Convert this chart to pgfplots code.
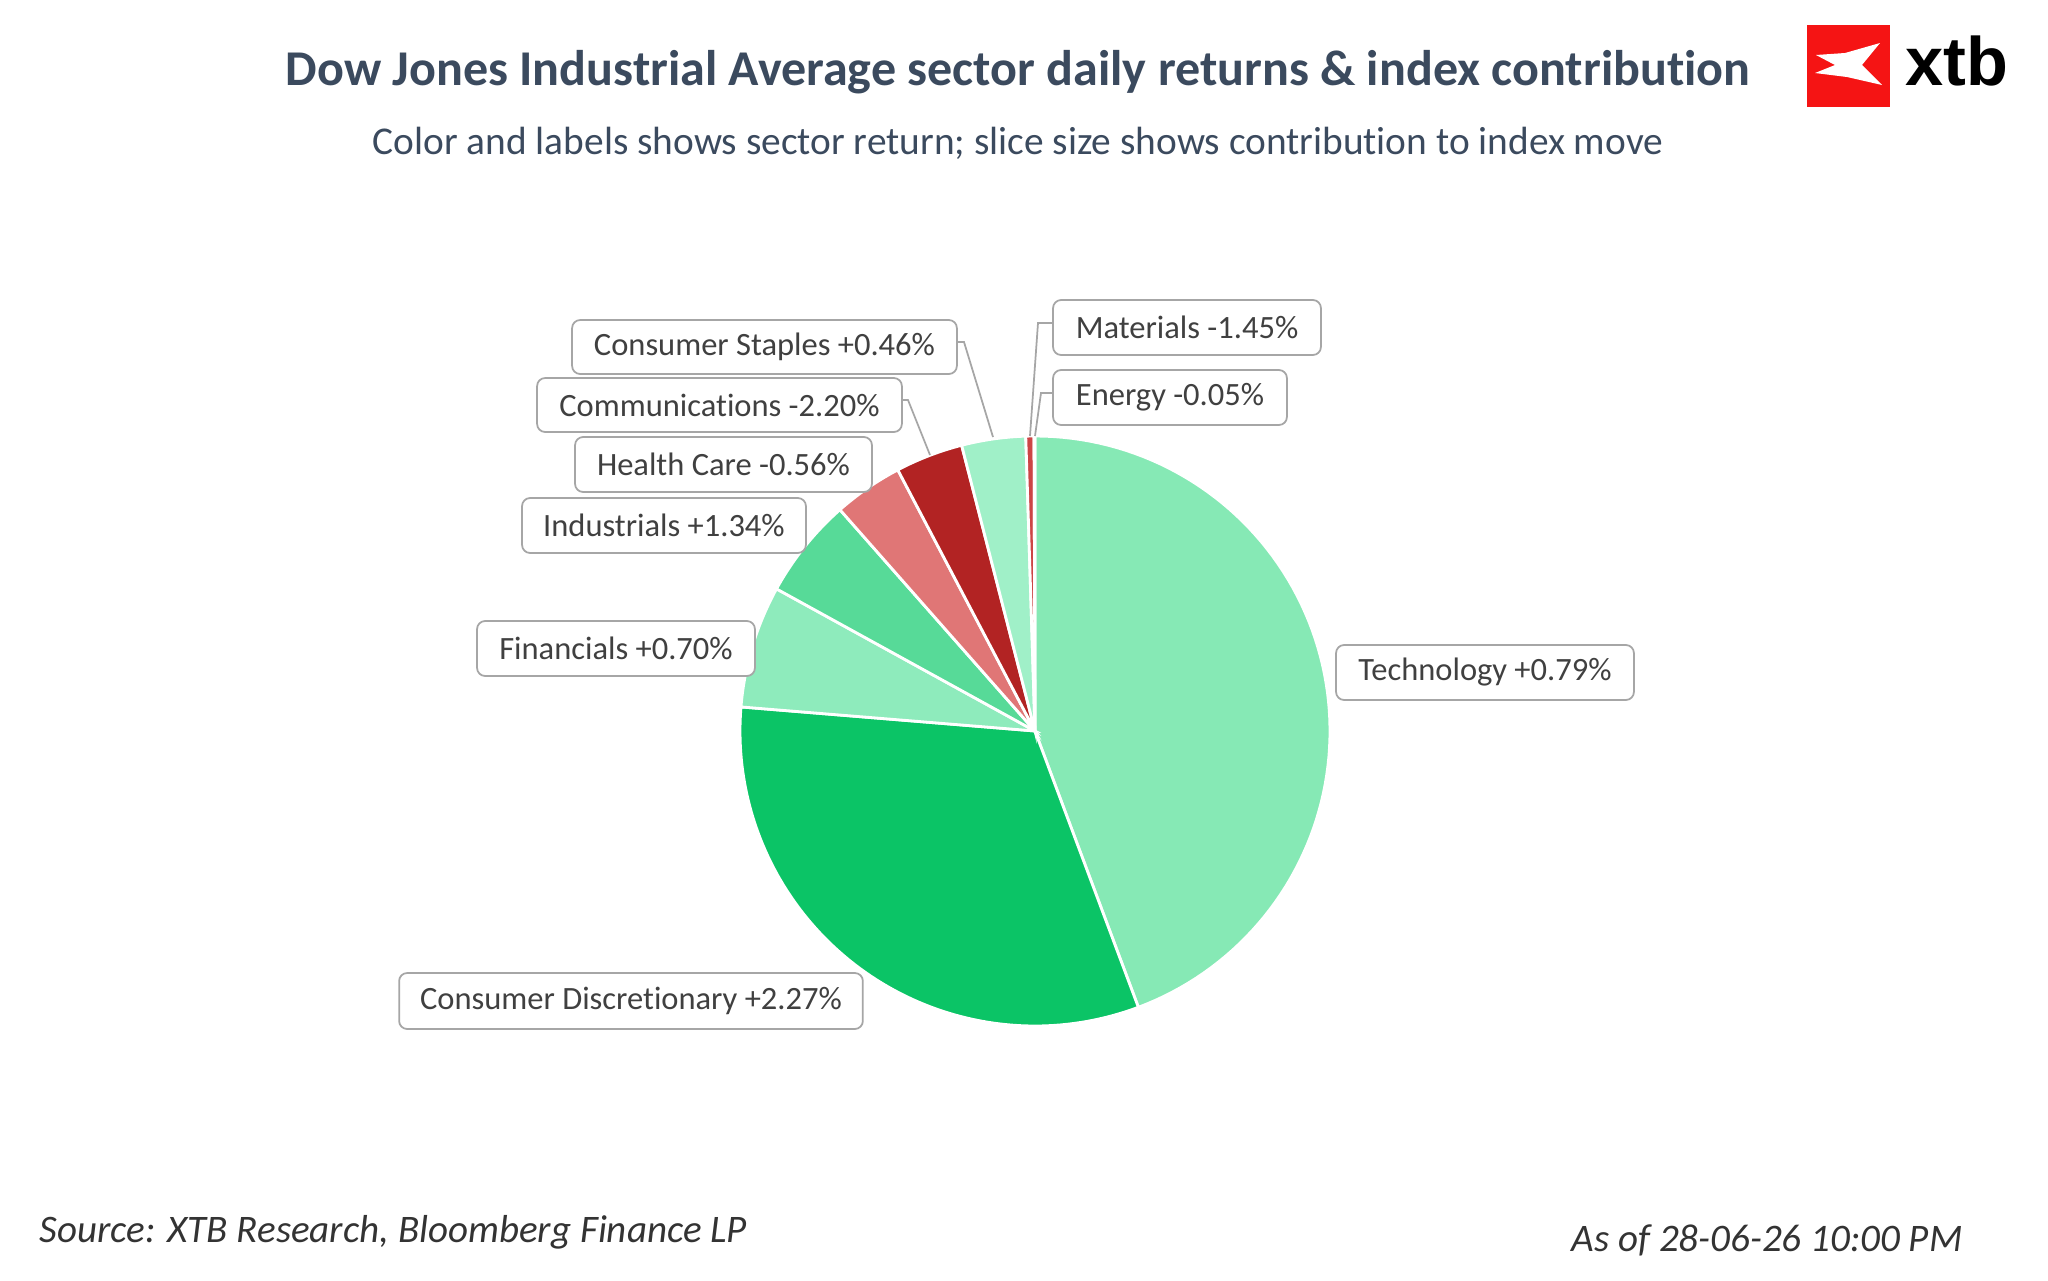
\documentclass[border=0pt]{standalone}
\usepackage{pgfplots}
\pgfplotsset{compat=1.18}
\usepackage{fontspec}
\setmainfont[Ligatures=NoCommon]{Carlito}
\newfontfamily\logofont{Liberation Sans}
\definecolor{titlec}{HTML}{3B4A5E}
\definecolor{labc}{HTML}{404040}
\definecolor{boxc}{HTML}{A6A6A6}
\definecolor{cTech}{HTML}{86E9B5}
\definecolor{cCD}{HTML}{0BC466}
\definecolor{cFin}{HTML}{8EEBBC}
\definecolor{cInd}{HTML}{57DA98}
\definecolor{cHC}{HTML}{E07676}
\definecolor{cComm}{HTML}{B22323}
\definecolor{cStap}{HTML}{A0F0C8}
\definecolor{cMat}{HTML}{CC4545}
\definecolor{cEn}{HTML}{F2B0B0}
\definecolor{xtbred}{HTML}{F51414}
% slice sizes: share of index move (%)
\def\pTech{44.3}
\def\pCD{32.0}
\def\pFin{6.7}
\def\pInd{5.5}
\def\pHC{3.8}
\def\pComm{3.7}
\def\pStap{3.5}
\def\pMat{0.45}
\def\pEn{0.05}
\pgfmathsetmacro\aA{90-3.6*\pTech}
\pgfmathsetmacro\aB{\aA-3.6*\pCD}
\pgfmathsetmacro\aC{\aB-3.6*\pFin}
\pgfmathsetmacro\aD{\aC-3.6*\pInd}
\pgfmathsetmacro\aE{\aD-3.6*\pHC}
\pgfmathsetmacro\aF{\aE-3.6*\pComm}
\pgfmathsetmacro\aG{\aF-3.6*\pStap}
\pgfmathsetmacro\aH{\aG-3.6*\pMat}
\pgfmathsetmacro\aI{\aH-3.6*\pEn}
\def\cx{1035}\def\cy{731}\def\rr{295}
\tikzset{lab/.style={draw=boxc, line width=0.5pt, rounded corners=0.08cm, fill=white,
  text=labc, font=\fontsize{9.25pt}{10pt}\selectfont, inner sep=0pt, anchor=center},
  lead/.style={draw=boxc, line width=0.5pt}}
\newcommand\slice[3]{\addplot[fill=#1, draw=white, line width=0.8pt, domain=#3:#2, samples=90]
  ({\cx+\rr*cos(x)},{\cy-\rr*sin(x)}) -- (axis cs:\cx,\cy) -- cycle;}
\newcommand\labbox[5]{% left top right bottom text
  \node[lab, minimum width={(#3-#1)*0.01cm}, minimum height={(#4-#2)*0.01cm}]
  at (axis cs:{(#1+#3)/2},{(#2+#4)/2}) {#5};}
\begin{document}
\begin{tikzpicture}
\begin{axis}[hide axis, scale only axis, width=20.48cm, height=12.81cm,
  xmin=0, xmax=2048, ymin=0, ymax=1281, y dir=reverse, clip=false]
\path (axis cs:0,0) rectangle (axis cs:2048,1281);
\slice{cTech}{90}{\aA}
\slice{cCD}{\aA}{\aB}
\slice{cFin}{\aB}{\aC}
\slice{cInd}{\aC}{\aD}
\slice{cHC}{\aD}{\aE}
\slice{cComm}{\aE}{\aF}
\slice{cStap}{\aF}{\aG}
\slice{cMat}{\aG}{\aH}
\slice{cEn}{\aH}{\aI}
% leader lines
\draw[lead] (axis cs:957,342) -- (axis cs:964,342) -- (axis cs:993,437);
\draw[lead] (axis cs:902,400) -- (axis cs:908,400) -- (axis cs:930,455);
\draw[lead] (axis cs:1053,323) -- (axis cs:1038,323) -- (axis cs:1030,436);
\draw[lead] (axis cs:1053,393) -- (axis cs:1041,393) -- (axis cs:1035,436);
% labels
\labbox{572}{320}{957}{374}{Consumer Staples +0.46\%}
\labbox{537}{378}{902}{432}{Communications -2.20\%}
\labbox{575}{437}{872}{492}{Health Care -0.56\%}
\labbox{522}{498}{806}{553}{Industrials +1.34\%}
\labbox{477}{621}{755}{676}{Financials +0.70\%}
\labbox{399}{973}{863}{1029}{Consumer Discretionary +2.27\%}
\labbox{1336}{645}{1634}{700}{Technology +0.79\%}
\labbox{1053}{300}{1321}{355}{Materials -1.45\%}
\labbox{1053}{370}{1287}{425}{Energy -0.05\%}
% titles
\node[text=titlec, font=\fontsize{14.25pt}{16pt}\selectfont\bfseries] at (axis cs:1018,72)
  {Dow Jones Industrial Average sector daily returns \& index contribution};
\node[text=titlec, font=\fontsize{11.2pt}{13pt}\selectfont] at (axis cs:1018,143)
  {Color and labels shows sector return; slice size shows contribution to index move};
\node[text=black!80, font=\fontsize{11.1pt}{13pt}\selectfont\itshape, anchor=west, inner sep=0pt] at (axis cs:39,1232)
  {Source: XTB Research, Bloomberg Finance LP};
\node[text=black!80, font=\fontsize{11.1pt}{13pt}\selectfont\itshape, anchor=east, inner sep=0pt] at (axis cs:1963,1240)
  {As of 28-06-26 10:00 PM};
% logo
\fill[xtbred] (axis cs:1807,25) rectangle (axis cs:1890,107);
\fill[white] (axis cs:1816,55) -- (axis cs:1845,53) -- (axis cs:1880,43) -- (axis cs:1862,65)
  -- (axis cs:1882,85) -- (axis cs:1847,77) -- (axis cs:1815,73) -- (axis cs:1835,65) -- cycle;
\node[font=\logofont\fontsize{19.5pt}{20pt}\selectfont\bfseries, anchor=base west, inner sep=0pt]
  at (axis cs:1905,85) {xtb};
\end{axis}
\end{tikzpicture}
\end{document}
